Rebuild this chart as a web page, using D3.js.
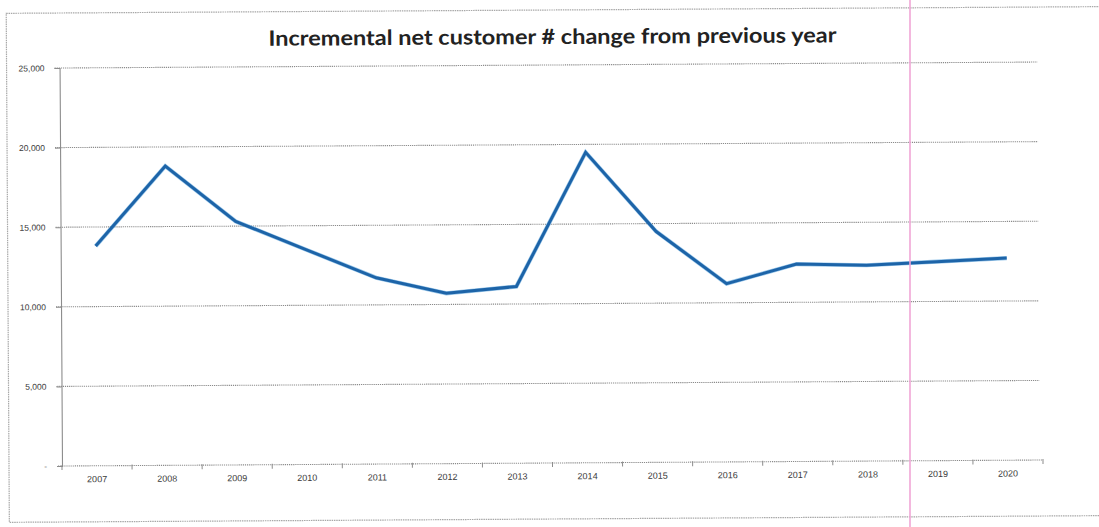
<!DOCTYPE html>
<html>
<head>
<meta charset="utf-8">
<script src="https://cdn.jsdelivr.net/npm/d3@7"></script>
<style>
  html, body { margin: 0; padding: 0; background: #fff; }
  svg { display: block; }
</style>
</head>
<body>
<svg id="chart" width="1099" height="527"></svg>
<script>
// Net customer additions per year
const years = ["2007", "2008", "2009", "2010", "2011", "2012", "2013",
               "2014", "2015", "2016", "2017", "2018", "2019", "2020"];
const netChange = [13800, 18800, 15300, 13500, 11700, 10700, 11100,
                   19500, 14500, 11200, 12400, 12300, 12500, 12700];
const yTicks = [0, 5000, 10000, 15000, 20000, 25000];
const titleText = "Incremental net customer # change from previous year";

const W = 1099, H = 527;
const svg = d3.select("#chart");
svg.append("rect").attr("width", W).attr("height", H).attr("fill", "#fff");

const plot = { left: 62, right: 1043, top: 68, bottom: 466 };

// whole sheet sits a little tilted
const g = svg.append("g").attr("transform", `rotate(-0.35, ${plot.left}, ${plot.bottom})`);

// outer chart frame
g.append("rect")
  .attr("x", 9).attr("y", 13)
  .attr("width", 1200).attr("height", 509)
  .attr("fill", "none").attr("stroke", "#a8a8a8").attr("stroke-width", 1.2)
  .attr("stroke-dasharray", "1.5,0.8");

const x = d3.scaleBand().domain(years).range([plot.left, plot.right]).padding(0);
const y = d3.scaleLinear().domain([0, 25000]).range([plot.bottom, plot.top]);

// horizontal gridlines
g.append("g")
  .selectAll("line")
  .data(yTicks.filter(t => t > 0))
  .join("line")
  .attr("x1", plot.left - 5).attr("x2", plot.right - 3)
  .attr("y1", d => y(d)).attr("y2", d => y(d))
  .attr("stroke", "#8a8a8a").attr("stroke-width", 1.1)
  .attr("stroke-dasharray", "1.2,0.9");

// y axis
const yAxis = d3.axisLeft(y)
  .tickValues(yTicks)
  .tickSize(5)
  .tickPadding(10)
  .tickFormat(d => d === 0 ? "-" : d3.format(",")(d));
const yg = g.append("g").attr("transform", `translate(${plot.left},0)`).call(yAxis);
yg.select(".domain").attr("stroke", "#8c8c8c").attr("stroke-width", 1.1);
yg.selectAll(".tick line").attr("stroke", "#8c8c8c");
yg.selectAll(".tick text")
  .attr("font-family", "'Liberation Sans', Arial, sans-serif")
  .attr("font-size", 8.5).attr("fill", "#3a3a3a");

// x axis with ticks on category boundaries
const xg = g.append("g").attr("transform", `translate(0,${plot.bottom})`);
xg.append("line")
  .attr("x1", plot.left - 4).attr("x2", plot.right)
  .attr("y1", 0).attr("y2", 0)
  .attr("stroke", "#8a8a8a").attr("stroke-width", 1.1)
  .attr("stroke-dasharray", "1.2,0.9");
xg.selectAll("line.bound")
  .data(years.concat(["end"]))
  .join("line")
  .attr("class", "bound")
  .attr("x1", (d, i) => plot.left + i * x.bandwidth())
  .attr("x2", (d, i) => plot.left + i * x.bandwidth())
  .attr("y1", -1).attr("y2", 4)
  .attr("stroke", "#8c8c8c").attr("stroke-width", 1);
const xAxis = d3.axisBottom(x).tickSize(0).tickPadding(10);
const xl = g.append("g").attr("transform", `translate(0,${plot.bottom})`).call(xAxis);
xl.select(".domain").remove();
xl.selectAll(".tick text")
  .attr("font-family", "'Liberation Sans', Arial, sans-serif")
  .attr("font-size", 9).attr("fill", "#3a3a3a");

// title
g.append("text")
  .attr("x", 555).attr("y", 47)
  .attr("text-anchor", "middle")
  .attr("font-family", "Lato, 'Open Sans', sans-serif")
  .attr("font-weight", "bold")
  .attr("font-size", 21)
  .attr("fill", "#222")
  .attr("textLength", 568)
  .attr("lengthAdjust", "spacingAndGlyphs")
  .text(titleText);

// data line
const line = d3.line()
  .x((d, i) => x(years[i]) + x.bandwidth() / 2)
  .y(d => y(d));
g.append("path")
  .datum(netChange)
  .attr("d", line)
  .attr("fill", "none")
  .attr("stroke", "#4a9ad8").attr("stroke-width", 4.2)
  .attr("stroke-linejoin", "miter").attr("opacity", 0.55);
g.append("path")
  .datum(netChange)
  .attr("d", line)
  .attr("fill", "none")
  .attr("stroke", "#1d64a8").attr("stroke-width", 3)
  .attr("stroke-linejoin", "miter");

// pink vertical marker line
svg.append("line")
  .attr("x1", 910).attr("x2", 910).attr("y1", 0).attr("y2", H)
  .attr("stroke", "#f0a6d6").attr("stroke-width", 1.6);
</script>
</body>
</html>
